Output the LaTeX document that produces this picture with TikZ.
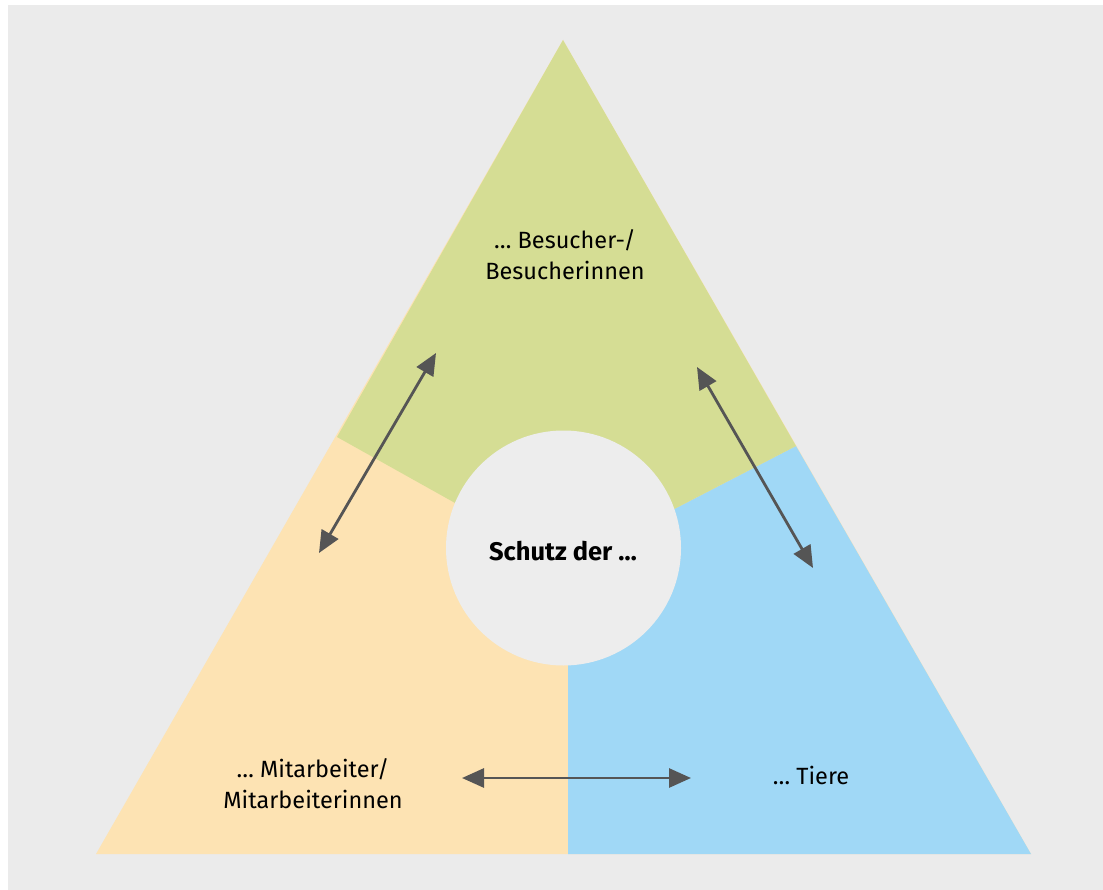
\documentclass[tikz,border=0pt]{standalone}
\usepackage{fontspec}
\setmainfont{Fira Sans}
\usetikzlibrary{arrows.meta}
\definecolor{bggray}{HTML}{EBEBEB}
\definecolor{circgray}{HTML}{EDEDED}
\definecolor{zgreen}{HTML}{D5DD94}
\definecolor{zorange}{HTML}{FDE3B3}
\definecolor{zblue}{HTML}{A0D8F6}
\definecolor{arrgray}{HTML}{555555}
\tikzset{
  lbl/.style={align=center, font=\fontsize{23.5}{31}\selectfont, inner sep=0pt},
  dblarrow/.style={draw=arrgray, line width=2.8pt, {Triangle[length=22pt,width=19pt]}-{Triangle[length=22pt,width=19pt]}}
}
\begin{document}
\begin{tikzpicture}[x=1pt,y=-1pt]
\useasboundingbox (0,0) rectangle (1103,890);
\fill[white] (0,0) rectangle (1103,890);
\fill[bggray] (8,5) rectangle (1103,890);
% triangle regions
\fill[zorange] (563,40) -- (96,854) -- (1031,854) -- cycle;
\fill[zblue] (796,446) -- (568,564) -- (568,854) -- (1031,854) -- cycle;
\fill[zgreen] (563,40) -- (337,437) -- (566,565) -- (796,446) -- cycle;
% centre
\node[circle, fill=circgray, minimum size=235pt, inner sep=0pt] (c) at (563.5,548) {};
\node[font=\fontsize{25.5}{30}\selectfont\bfseries, inner sep=0pt] (ct) at (563,551) {Schutz der …};
% labels
\node[lbl] (besucher) at (565,255) {… Besucher-/\\Besucherinnen};
\node[lbl] (mitarb) at (313,784) {… Mitarbeiter/\\Mitarbeiterinnen};
\node[lbl] (tiere) at (811,775) {… Tiere};
% arrow endpoints
\coordinate (a1) at (319,553);
\coordinate (a2) at (436,353);
\coordinate (b1) at (697,367);
\coordinate (b2) at (813,568);
\coordinate (h1) at (462,778);
\coordinate (h2) at (691,778);
\draw[dblarrow] (a1) -- (a2);
\draw[dblarrow] (b1) -- (b2);
\draw[dblarrow] (h1) -- (h2);
\end{tikzpicture}
\end{document}
